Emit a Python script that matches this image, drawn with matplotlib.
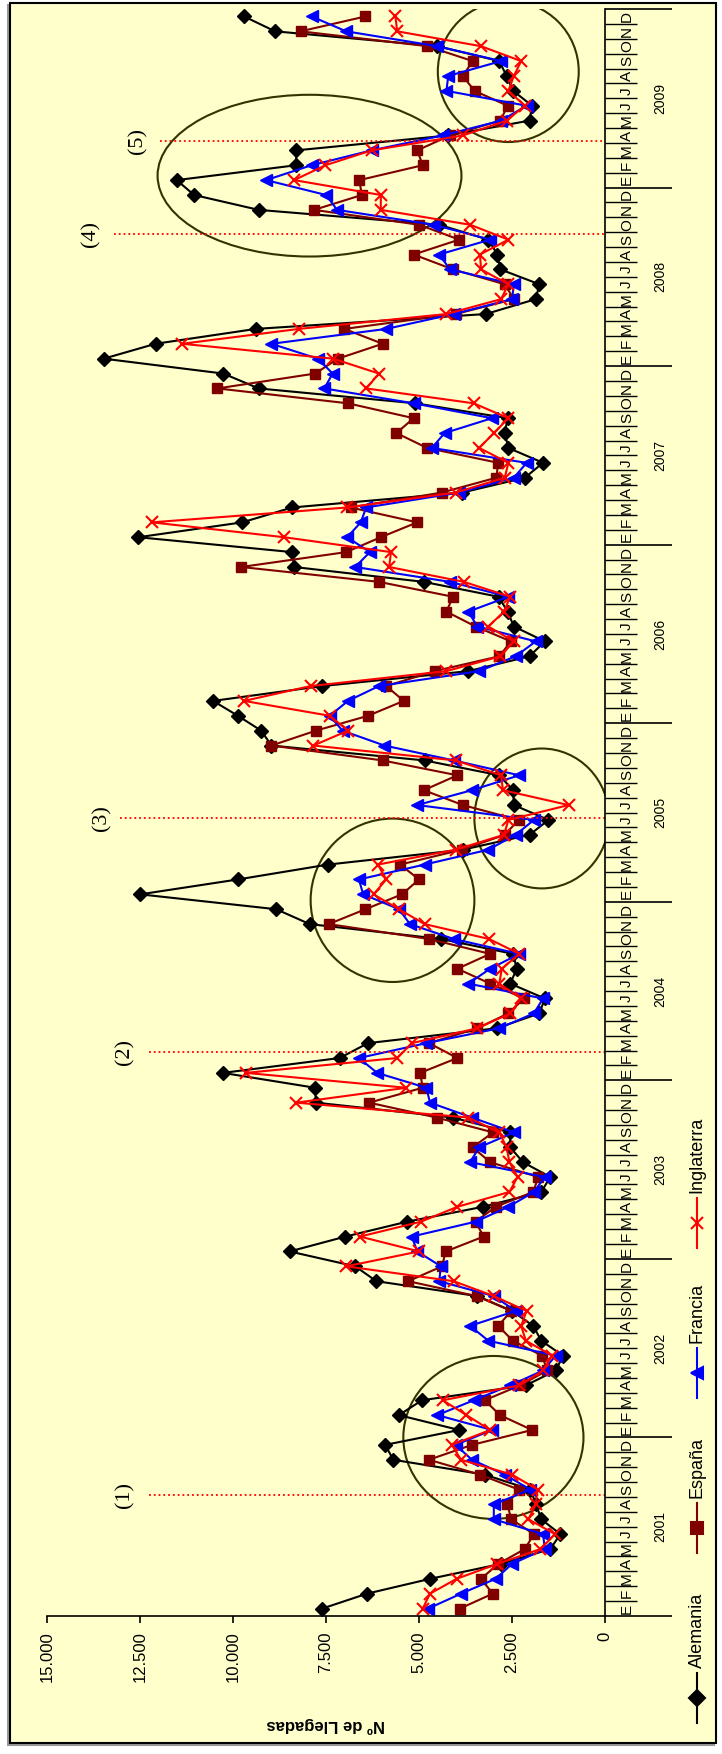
import numpy as np
import matplotlib.pyplot as plt
import matplotlib.transforms as mtransforms
from matplotlib.patches import Ellipse, Rectangle
from matplotlib.lines import Line2D

plt.rcParams['font.family'] = ['Liberation Sans', 'DejaVu Sans']

# datos mensuales 2001-2009 (llegadas)
anios = list(range(2001, 2010))
meses = ["E", "F", "M", "A", "M", "J", "J", "A", "S", "O", "N", "D"]

alemania = [7600, 6400, 4700, 2800, 1470, 1200, 1715, 1850, 2010, 3230, 5690, 5910,
            3920, 5540, 4920, 2130, 1320, 1130, 1715, 1930, 2500, 3430, 6145, 6713,
            8477, 6978, 5321, 3283, 1715, 1470, 2205, 2548, 2548, 4096, 7771, 7791,
            10270, 7134, 6370, 2911, 1764, 1617, 2548, 2372, 2470, 4410, 7938, 8840,
            12495, 9869, 7448, 3822, 2029, 1519, 2450, 2470, 2842, 4851, 8967, 9241,
            9869, 10535, 7595, 3675, 2029, 1617, 2450, 2617, 2862, 4871, 8359, 8408,
            12544, 9751, 8408, 3842, 2156, 1666, 2597, 2695, 2617, 5096, 9310, 10261,
            13475, 12083, 9388, 3205, 1862, 1764, 2813, 2891, 3136, 4459, 9310, 11045,
            11515, 8301, 8301, 4214, 2029, 1960, 2470, 2646, 2842, 4508, 8869, 9702]

espana = [3900, 3018, 3332, 2871, 2156, 1911, 2519, 2626, 2323, 3361, 4733, 3577,
          1960, 2822, 3234, 2283, 1550, 1695, 2479, 2871, 2519, 3450, 5292, 4381,
          4283, 3263, 3479, 2940, 1930, 1793, 3087, 3557, 3009, 4528, 6341, 4900,
          4969, 3969, 4733, 3430, 2597, 2176, 3087, 3969, 3087, 4733, 7428, 6439,
          5459, 4998, 5508, 3851, 2695, 2323, 3822, 4871, 3969, 5978, 8967, 7771,
          6370, 5410, 5880, 4577, 2842, 2528, 3479, 4263, 4087, 6076, 9780, 6958,
          6027, 5047, 6840, 4390, 2920, 2871, 4782, 5606, 5145, 6909, 10417, 7791,
          7180, 5978, 7007, 4018, 2450, 2695, 4087, 5145, 3920, 4998, 7820, 6537,
          6605, 4900, 5047, 4165, 2813, 2617, 3508, 3822, 3557, 4773, 8183, 6439]

francia = [4753, 3871, 2940, 2499, 1617, 1666, 2989, 2989, 2009, 2695, 3577, 4018,
           3038, 4508, 3528, 2548, 1666, 1323, 3136, 3626, 2401, 2989, 4459, 4410,
           5047, 5194, 3479, 2597, 1911, 1617, 3626, 3381, 2450, 3577, 4704, 4802,
           6125, 6615, 4802, 2842, 1911, 1666, 3675, 3087, 2303, 4067, 5243, 5537,
           6500, 6615, 4851, 3136, 2401, 1911, 5047, 3577, 2303, 4067, 5929, 7056,
           7399, 6909, 6076, 3381, 2401, 1862, 3430, 3675, 2597, 4165, 6713, 6321,
           6930, 6566, 6419, 3920, 2450, 2107, 4655, 4312, 3038, 5145, 7546, 7321,
           7720, 8967, 5880, 4067, 2499, 2450, 4165, 4459, 3087, 4606, 7203, 7497,
           9110, 7889, 6272, 4361, 2793, 2107, 4263, 4214, 2793, 4508, 6958, 7889]

inglaterra = [4900, 4704, 3989, 2891, 1735, 1343, 2058, 1862, 1813, 2499, 3871, 4116,
              3087, 3724, 4361, 2303, 1666, 1421, 2127, 2254, 2107, 2989, 4067, 6958,
              4998, 6586, 4949, 3969, 2568, 2352, 2568, 2646, 2842, 3675, 8301, 5341,
              9653, 5586, 5194, 3430, 2548, 2254, 2842, 2773, 2303, 3116, 4851, 5537,
              6223, 5880, 6105, 4018, 2715, 2597, 980, 2744, 2793, 4018, 7840, 6909,
              7399, 9702, 7909, 4263, 2813, 2450, 3136, 2715, 2548, 3793, 5802, 5753,
              8624, 12181, 6929, 4018, 2695, 2597, 3381, 2989, 2597, 3528, 6419, 6076,
              7311, 11368, 8232, 4263, 2793, 2597, 3332, 3361, 2597, 3626, 6027, 6027,
              8355, 7517, 6272, 3822, 2646, 2156, 2597, 2450, 2254, 3332, 5586, 5635]

ticks_valor = [0, 2500, 5000, 7500, 10000, 12500, 15000]
etiquetas_valor = ["0", "2.500", "5.000", "7.500", "10.000", "12.500", "15.000"]

# anotaciones (1)..(5): mes, inicio de la linea punteada, posicion del texto
marcas = ["(1)", "(2)", "(3)", "(4)", "(5)"]
marcas_mes = [7.6, 37.4, 53.1, 92.4, 98.6]
marcas_inicio = [12270, 12270, 13050, 13200, 11970]
marcas_texto = [12915, 12915, 13530, 13830, 12565]

# elipses: (centro valor, centro mes, ancho, alto)
elipses = [(3000, 11.5, 4843, 10.95),
           (5712, 47.6, 4402, 10.98),
           (1700, 53.1, 3622, 9.4),
           (7943, 96.3, 8169, 10.87),
           (2600, 103.3, 3788, 9.48)]

W, H = 722, 1754
def fx(x):
    return x / W
def fy(y):
    return 1 - y / H

fig = plt.figure(figsize=(W / 100, H / 100), dpi=100, facecolor='white')

# marco del grafico
fig.patches.append(Rectangle((fx(8), fy(1745)), fx(716 - 10), (1743 - 3) / H,
                             transform=fig.transFigure, fc='none', ec='#999999', lw=1.5, zorder=-2))
fig.patches.append(Rectangle((fx(10), fy(1743)), fx(716 - 10), (1743 - 3) / H,
                             transform=fig.transFigure, fc='#FFFFCC', ec='black', lw=1.5, zorder=-1))

ax = fig.add_axes([fx(47), fy(1616), fx(605 - 47), (1616 - 9) / H])
ax.set_facecolor('none')

meses_idx = np.arange(len(alemania))
ax.plot(alemania, meses_idx, color='black', marker='D', ms=7, lw=1.5, label='Alemania')
ax.plot(espana, meses_idx, color='#800000', marker='s', ms=7, lw=1.5, label='España')
ax.plot(francia, meses_idx, color='#0000FF', marker='<', ms=8, lw=1.5, label='Francia')
ax.plot(inglaterra, meses_idx, color='#FF0000', marker='x', ms=9, mew=1.5, lw=1.5, label='Inglaterra')

ax.set_xlim(15000, 0)
ax.set_ylim(-0.5, len(alemania) - 0.5)

for s in ['top', 'left']:
    ax.spines[s].set_visible(False)
ax.spines['bottom'].set_linewidth(1.2)
ax.spines['right'].set_linewidth(1.2)

ax.set_xticks(ticks_valor)
ax.set_xticklabels(etiquetas_valor)
ax.tick_params(axis='x', direction='out', length=5, width=1.2, labelsize=12, labelrotation=90, pad=6)

# eje del tiempo a la derecha
ax.yaxis.set_ticks_position('right')
ax.set_yticks([12 * i - 0.5 for i in range(len(anios) + 1)])
ax.set_yticks(np.arange(-0.5, len(alemania)), minor=True)
ax.tick_params(axis='y', which='major', direction='out', length=48, width=1.2, labelright=False)
ax.tick_params(axis='y', which='minor', direction='out', length=23, width=1.0, labelright=False)

trans = mtransforms.blended_transform_factory(ax.transAxes, ax.transData)
for i, a in enumerate(anios):
    for j, m in enumerate(meses):
        ax.text(1 + 22 / 558, 12 * i + j, m, transform=trans, rotation=90,
                ha='center', va='center', fontsize=11)
    ax.text(1 + 55 / 558, 12 * i + 5.5, str(a), transform=trans, rotation=90,
            ha='center', va='center', fontsize=10)

ax.set_xlabel("Nº de Llegadas", rotation=180, fontweight='bold', fontsize=12)
ax.xaxis.label.set_va('center')
ax.xaxis.set_label_coords(0.5, (1616 - 1725) / 1607)

# lineas punteadas y etiquetas
for txt, m, x0, xt in zip(marcas, marcas_mes, marcas_inicio, marcas_texto):
    ax.plot([x0, 0], [m, m], color='red', ls=':', lw=1.3)
    ax.text(xt, m, txt, rotation=90, ha='center', va='center', fontsize=16,
            family=['Liberation Serif', 'DejaVu Serif'])

for cx, cy, w, h in elipses:
    ax.add_patch(Ellipse((cx, cy), w, h, fc='none', ec='#333300', lw=1.5))

# leyenda manual (vertical)
items = [('Alemania', 'black', 'D', 1723, 1673),
         ('España', '#800000', 's', 1553, 1503),
         ('Francia', '#0000FF', '<', 1398, 1348),
         ('Inglaterra', '#FF0000', 'x', 1248, 1198)]
for nombre, col, mk, y0, y1 in items:
    fig.add_artist(Line2D([fx(697), fx(697)], [fy(y0), fy(y1)], color=col, lw=1.5,
                          transform=fig.transFigure))
    fig.add_artist(Line2D([fx(697)], [fy((y0 + y1) / 2)], color=col, marker=mk, ms=8,
                          mew=1.5, transform=fig.transFigure))
    fig.text(fx(697), fy(y1 - 5), nombre, rotation=90, ha='center', va='bottom', fontsize=13)

fig.savefig('out.png', dpi=100, facecolor='white')
